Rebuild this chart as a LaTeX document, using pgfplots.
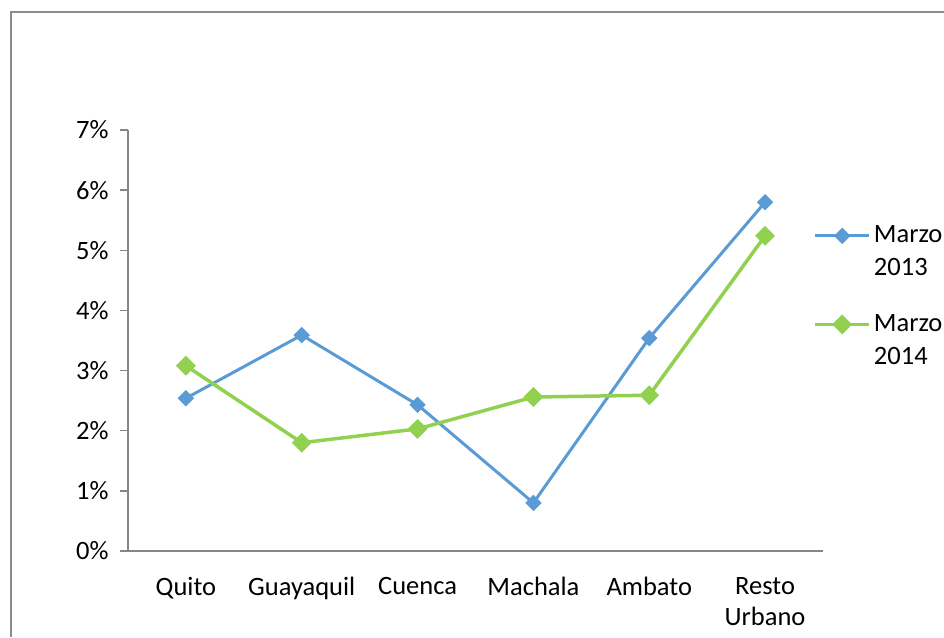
\documentclass[border=0pt]{standalone}
\usepackage{fontspec}
\setmainfont{Carlito}
\usepackage{pgfplots}
\pgfplotsset{compat=1.18}
\definecolor{serA}{HTML}{5B9BD5}
\definecolor{serB}{HTML}{92D050}
\definecolor{axgray}{HTML}{868686}
\definecolor{framegray}{HTML}{8C8C8C}

\pgfplotstableread{
x  y13   y14
0  2.54  3.08
1  3.59  1.80
2  2.43  2.03
3  0.80  2.56
4  3.54  2.59
5  5.80  5.24
}\datatable

\begin{document}
\begin{tikzpicture}[x=1pt,y=1pt]
\useasboundingbox (0,0) rectangle (944,637);
% chart area frame
\draw[framegray, line width=1.3pt] (11,0) -- (11,625) -- (944,625);
\begin{axis}[
  at={(128pt,86pt)}, anchor=south west,
  scale only axis, width=695pt, height=421pt,
  font=\fontsize{26.5}{31}\selectfont,
  /pgf/number format/assume math mode=true,
  xmin=-0.5, xmax=5.5, ymin=0, ymax=7,
  axis lines=left, axis line style={-, axgray, line width=1.6pt},
  xtick={0,...,5},
  xticklabels={Quito,Guayaquil,Cuenca,Machala,Ambato,{Resto\\Urbano}},
  xticklabel style={align=center, yshift=-15pt},
  x tick style={draw=none},
  minor xtick={-0.5,0.5,...,5.5},
  minor x tick style={axgray, line width=1.3pt},
  minor tick length=8pt,
  ytick={0,...,7},
  yticklabel={\pgfmathprintnumber{\tick}\%},
  yticklabel style={xshift=-8pt},
  y tick style={axgray, line width=1.3pt},
  major tick length=8pt,
  tick align=outside,
  clip=false,
  legend style={at={(0.986,0.792)}, anchor=north west, draw=none, fill=none,
    font=\fontsize{26.5}{33}\selectfont,
    nodes={anchor=base west, inner xsep=3pt}, row sep=60pt, inner sep=0pt},
  legend cell align=left,
  legend image code/.code={\draw[mark repeat=2,mark phase=2,#1] plot coordinates {(0pt,7pt) (27pt,7pt) (54pt,7pt)};},
]
\addplot[serA, line width=3pt, mark=square*, mark size=4.3pt,
  mark options={rotate=45, solid}] table[x=x,y=y13] {\datatable};
\addlegendentry{\begin{tabular}[t]{@{}l@{}}Marzo\\2013\end{tabular}}
\addplot[serB, line width=3.5pt, mark=square*, mark size=5.3pt,
  mark options={rotate=45, solid}] table[x=x,y=y14] {\datatable};
\addlegendentry{\begin{tabular}[t]{@{}l@{}}Marzo\\2014\end{tabular}}
\end{axis}
\end{tikzpicture}
\end{document}
